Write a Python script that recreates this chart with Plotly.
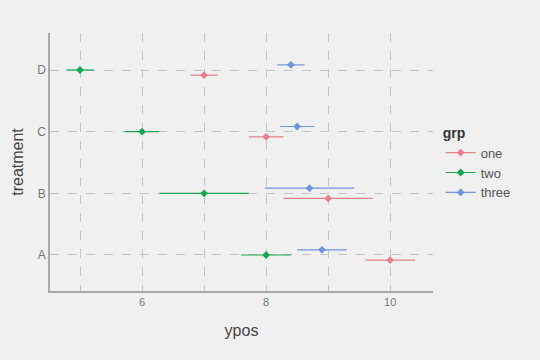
import plotly.graph_objects as go

treatments = ["A", "B", "C", "D"]
groups = ["one", "two", "three"]
ypos = {
    "one":   [10.0, 9.0, 8.0, 7.0],
    "two":   [8.0, 7.0, 6.0, 5.0],
    "three": [8.9, 8.7, 8.5, 8.4],
}
err = {
    "one":   [0.4, 0.72, 0.28, 0.22],
    "two":   [0.4, 0.72, 0.28, 0.22],
    "three": [0.4, 0.72, 0.28, 0.22],
}
colors = {"one": "#e6818b", "two": "#16a651", "three": "#6f93dc"}

fig = go.Figure()
for g in groups:
    fig.add_trace(go.Scatter(
        x=ypos[g], y=treatments, name=g, orientation="h",
        mode="markers", showlegend=False,
        marker=dict(color=colors[g], size=6, symbol="diamond"),
        error_x=dict(type="data", array=err[g], color=colors[g], thickness=1.2, width=0),
    ))
for g in groups:
    fig.add_trace(go.Scatter(
        x=[None], y=[None], name=g, mode="lines+markers",
        line=dict(color=colors[g], width=1.2),
        marker=dict(color=colors[g], size=6, symbol="diamond"),
    ))

fig.update_layout(
    width=540, height=360,
    margin=dict(l=50, r=107, t=33, b=69),
    paper_bgcolor="#f0f0f0", plot_bgcolor="#f0f0f0",
    font=dict(family="Liberation Sans, Arial, sans-serif", color="#555"),
    scattermode="group", scattergap=0.75,
    legend=dict(
        x=1.02, y=0.665, xanchor="left", yanchor="top",
        title=dict(text="<b>grp</b>", font=dict(size=14, color="#333")),
        font=dict(size=13, color="#555"), bgcolor="rgba(0,0,0,0)",
        tracegroupgap=0, itemwidth=30,
    ),
    xaxis=dict(
        range=[4.516, 10.69], tickvals=[6, 8, 10], ticktext=["6", "8", "10"],
        showgrid=True, gridcolor="#c4c4c4", griddash="dash", gridwidth=1,
        minor=dict(dtick=1, tick0=0, showgrid=True, gridcolor="#c4c4c4", griddash="dash", gridwidth=1),
        zeroline=False, showline=True, linecolor="#a8a8a8", linewidth=1.5,
        ticks="", tickfont=dict(size=11, color="#777"),
        title=dict(text="ypos", font=dict(size=16, color="#444"), standoff=18),
    ),
    yaxis=dict(
        type="category", categoryorder="array", categoryarray=treatments,
        range=[-0.584, 3.6],
        showgrid=True, gridcolor="#c4c4c4", griddash="dash", gridwidth=1,
        zeroline=False, showline=True, linecolor="#a8a8a8", linewidth=1.5,
        ticks="", tickfont=dict(size=12, color="#777"),
        title=dict(text="treatment", font=dict(size=16, color="#444"), standoff=10),
    ),
)

fig.write_html("out.html")
